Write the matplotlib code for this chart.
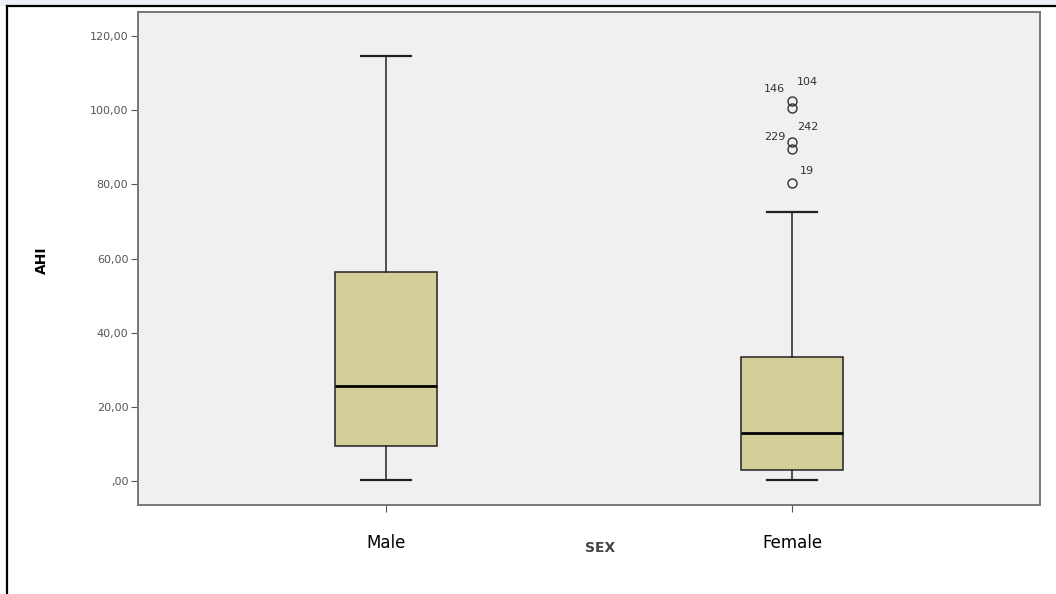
import matplotlib
matplotlib.use("Agg")
import matplotlib.pyplot as plt
from matplotlib.patches import Rectangle
from matplotlib.lines import Line2D

categories = ["Male", "Female"]
q1 = [9.4, 3.0]
median = [25.6, 12.9]
q3 = [56.4, 33.4]
whisker_low = [0.3, 0.3]
whisker_high = [114.6, 72.5]
female_outliers = [102.4, 100.6, 91.5, 89.6, 80.5]
female_outlier_ids = ["104", "146", "242", "229", "19"]
outliers = [[], female_outliers]
outlier_ids = [[], female_outlier_ids]
yticks = [0, 20, 40, 60, 80, 100, 120]
ytick_labels = [",00", "20,00", "40,00", "60,00", "80,00", "100,00", "120,00"]

# label offsets (points) relative to each outlier, and alignment
label_offsets = {"104": (3.6, 13.7, "left"), "146": (-5, 13.7, "right"),
                 "242": (3.6, 10.8, "left"), "229": (-5, 8.6, "right"),
                 "19": (5.8, 8.3, "left")}

W, H = 1056, 594
fig = plt.figure(figsize=(W / 100, H / 100), dpi=100)
fig.patch.set_facecolor("white")

fig.patches.append(Rectangle((0, 1 - 6 / H), 1, 6 / H, transform=fig.transFigure,
                             facecolor="#eef1f9", edgecolor="none", zorder=0))
fig.lines.append(Line2D([7 / W, 1], [1 - 6 / H, 1 - 6 / H], transform=fig.transFigure,
                        color="black", lw=1.6))
fig.lines.append(Line2D([7 / W, 7 / W], [0, 1 - 6 / H], transform=fig.transFigure,
                        color="black", lw=1.6))

ax = fig.add_axes([138 / W, 89 / H, (1040 - 138) / W, (505 - 12) / H])
ax.set_facecolor("#f0f0f0")

stats = []
for i, c in enumerate(categories):
    stats.append(dict(label=c, q1=q1[i], med=median[i], q3=q3[i],
                      whislo=whisker_low[i], whishi=whisker_high[i], fliers=outliers[i]))

positions = [1, 2]
ax.bxp(stats, positions=positions, widths=0.25, patch_artist=True,
       boxprops=dict(facecolor="#d4cf98", edgecolor="#222222", lw=1.1),
       medianprops=dict(color="black", lw=2),
       whiskerprops=dict(color="#222222", lw=1.1),
       capprops=dict(color="#222222", lw=1.6),
       flierprops=dict(marker="o", markerfacecolor="none", markeredgecolor="#333333",
                       markersize=6.5, markeredgewidth=1.0),
       capwidths=0.125)

for i, (vals, ids) in enumerate(zip(outliers, outlier_ids)):
    for v, lab in zip(vals, ids):
        dx, dy, ha = label_offsets[lab]
        ax.annotate(lab, (positions[i], v), xytext=(dx, dy), textcoords="offset points",
                    ha=ha, va="center", fontsize=8, color="#333333")

x0, x1 = 138, 1040
a = (792 - 386) / 1.0
b = 386 - a
ax.set_xlim((x0 - b) / a, (x1 - b) / a)
ax.set_ylim(-6.5, 126.5)

ax.set_yticks(yticks)
ax.set_yticklabels(ytick_labels, fontsize=8, color="#555555")
ax.set_xticks(positions)
ax.set_xticklabels(categories, fontsize=12, color="black")
ax.tick_params(axis="y", length=5, color="#555555", pad=2)
ax.tick_params(axis="x", length=5, color="#555555", pad=16)

for s in ax.spines.values():
    s.set_color("#777777")
    s.set_linewidth(1.4)

ax.set_ylabel("AHI", fontsize=10, fontweight="bold")
ax.set_xlabel("SEX", fontsize=10, fontweight="bold", color="#444444")
ax.xaxis.set_label_coords((600 - x0) / (x1 - x0), -(541 - 505) / (505 - 12))
ax.yaxis.set_label_coords(-(138 - 49) / (x1 - x0), (505 - 260) / (505 - 12))

fig.savefig("out.png", dpi=100)
